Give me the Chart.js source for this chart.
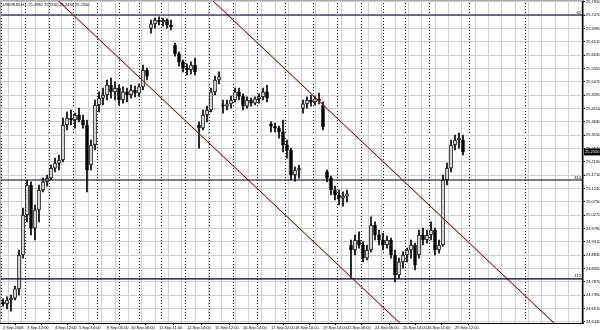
<!DOCTYPE html>
<html><head><meta charset="utf-8">
<script src="https://cdn.jsdelivr.net/npm/chart.js@4/dist/chart.umd.min.js"></script>
<style>html,body{margin:0;padding:0;background:#fff;overflow:hidden}canvas{display:block}</style>
</head><body>
<canvas id="c" width="600" height="330" style="width:600px;height:330px"></canvas>
<script>
const symbol = 'USDRUB,H1';
const openP = [
24.715,24.708,24.722,24.729,24.762,24.884,25.028,25.136,24.981,25.046,
25.118,25.147,25.161,25.197,25.215,25.226,25.352,25.377,25.370,25.388,
25.370,25.352,25.208,25.280,25.424,25.449,25.460,25.496,25.471,25.485,
25.442,25.471,25.460,25.478,25.467,25.489,25.550,25.701,25.716,25.730,
25.723,25.730,25.712,25.640,25.608,25.579,25.557,25.550,25.568,25.352,
25.341,25.388,25.406,25.471,25.514,25.424,25.420,25.428,25.442,25.471,
25.456,25.420,25.442,25.431,25.446,25.453,25.471,25.356,25.348,25.341,
25.327,25.280,25.262,25.172,25.190,25.413,25.428,25.442,25.435,25.446,
25.424,25.183,25.161,25.118,25.100,25.089,25.096,24.920,24.902,24.938,
24.920,24.873,24.902,24.992,24.956,24.938,24.920,24.938,24.884,24.812,
24.859,24.884,24.902,24.920,24.884,24.956,24.938,24.956,24.974,24.902,
24.920,25.154,25.197,25.280,25.298,25.298];
const highP = [
24.726,24.733,24.740,24.772,24.902,25.053,25.154,25.147,25.064,25.136,
25.161,25.172,25.208,25.233,25.244,25.377,25.399,25.406,25.395,25.413,
25.388,25.370,25.298,25.442,25.471,25.485,25.514,25.521,25.507,25.496,
25.489,25.485,25.496,25.492,25.500,25.568,25.557,25.730,25.737,25.741,
25.737,25.734,25.730,25.647,25.615,25.586,25.572,25.579,25.593,25.363,
25.406,25.420,25.485,25.528,25.543,25.442,25.442,25.456,25.485,25.485,
25.464,25.453,25.449,25.453,25.464,25.485,25.496,25.363,25.359,25.348,
25.370,25.298,25.269,25.201,25.208,25.442,25.453,25.460,25.456,25.467,
25.435,25.190,25.168,25.132,25.118,25.111,25.118,24.938,24.956,24.967,
24.931,24.920,25.021,25.003,24.974,24.963,24.952,24.945,24.902,24.873,
24.895,24.909,24.938,24.927,24.974,24.981,24.974,25.003,24.981,24.938,
25.172,25.215,25.298,25.316,25.323,25.316];
const lowP = [
24.700,24.690,24.682,24.722,24.740,24.873,25.003,24.956,24.938,25.003,
25.111,25.132,25.154,25.183,25.190,25.219,25.334,25.352,25.341,25.363,
25.341,25.111,25.190,25.262,25.399,25.424,25.442,25.449,25.442,25.424,
25.431,25.435,25.449,25.453,25.456,25.478,25.514,25.683,25.701,25.712,
25.708,25.701,25.694,25.600,25.564,25.543,25.532,25.536,25.532,25.269,
25.334,25.363,25.399,25.460,25.500,25.395,25.406,25.413,25.435,25.442,
25.406,25.413,25.420,25.424,25.431,25.442,25.435,25.327,25.327,25.305,
25.255,25.233,25.154,25.150,25.161,25.395,25.413,25.420,25.424,25.428,
25.334,25.147,25.100,25.082,25.064,25.060,25.075,24.801,24.884,24.909,
24.859,24.866,24.895,24.938,24.920,24.902,24.909,24.873,24.787,24.801,
24.837,24.859,24.873,24.830,24.873,24.920,24.927,24.938,24.884,24.891,
24.916,25.136,25.183,25.262,25.269,25.244];
const closeP = [
24.708,24.722,24.729,24.762,24.884,25.028,25.136,24.981,25.046,25.118,
25.147,25.161,25.197,25.215,25.226,25.352,25.377,25.370,25.388,25.370,
25.352,25.190,25.280,25.424,25.449,25.460,25.496,25.471,25.485,25.442,
25.471,25.460,25.478,25.467,25.489,25.550,25.528,25.716,25.730,25.723,
25.730,25.712,25.705,25.608,25.579,25.557,25.550,25.568,25.543,25.341,
25.388,25.406,25.471,25.514,25.525,25.420,25.428,25.442,25.471,25.456,
25.420,25.442,25.431,25.446,25.453,25.471,25.449,25.348,25.341,25.327,
25.280,25.262,25.172,25.190,25.197,25.428,25.442,25.435,25.446,25.438,
25.345,25.161,25.118,25.100,25.089,25.096,25.104,24.902,24.938,24.920,
24.873,24.902,24.992,24.956,24.938,24.920,24.938,24.884,24.812,24.859,
24.884,24.902,24.920,24.848,24.956,24.938,24.956,24.974,24.902,24.920,
25.154,25.197,25.280,25.298,25.305,25.255];

const timeLabels = ['2 Sep 2008','3 Sep 12:00','4 Sep 12:00','5 Sep 14:00','8 Sep 05:00','10 Sep 06:00',
 '11 Sep 11:00','12 Sep 14:00','15 Sep 12:00','16 Sep 14:00','17 Sep 22:00','18 Sep 10:00',
 '19 Sep 14:00','22 Sep 06:00','24 Sep 06:00','25 Sep 14:00','26 Sep 11:00','29 Sep 12:00'];
const labelBars = [0,6,13,19,26,32,39,46,53,60,67,73,80,86,93,100,106,113];
const daySeparators = [2.5,8.5,14.5,20.5,26.5,31.5,36.5,42.5,48.5,54.5,60.5,66.5,74.5,80.5,86.5,92.5,97.5,103.5,109.5,123.5];
const priceTicks = [25.795,25.747,25.699,25.651,25.603,25.555,25.507,25.459,25.411,25.363,25.315,25.267,
 25.219,25.171,25.123,25.075,25.027,24.979,24.931,24.883,24.835,24.787,24.739,24.691,24.643];
const levelPrices = [25.748, 25.154, 24.798];
const levelNames = ['62','314','112'];
const channelA = [[13.6,25.802],[99.2,24.639]];
const channelB = [[52.25,25.802],[137.75,24.639]];

const xMin = -0.75, xMax = 145, yMin = 24.6392, yMax = 25.802;
const lightGridStep = 3.3333;
const FAMILY = '"Liberation Sans", Arial, sans-serif';
const last = closeP.length - 1;

const idx = openP.map((_, i) => i);
const bodies = idx.map(i => ({x: i, y: [Math.min(openP[i], closeP[i]), Math.max(openP[i], closeP[i])]}));
const wicks = idx.map(i => ({x: i, y: [lowP[i], highP[i]]}));
const bodyColors = idx.map(i => closeP[i] >= openP[i] ? '#ffffff' : '#000000');

const lineDs = (pts, color, width, order) => ({
  type: 'line', data: pts.map(([x, y]) => ({x, y})), borderColor: color, borderWidth: width,
  pointRadius: 0, pointHoverRadius: 0, fill: false, tension: 0, order
});

const datasets = [
  {label: 'body', data: bodies, backgroundColor: bodyColors, borderColor: '#000', borderWidth: 1,
   borderSkipped: false, barThickness: 3, grouped: false, order: 0},
  {label: 'wick', data: wicks, backgroundColor: '#000', borderWidth: 0, barThickness: 1, grouped: false, order: 1},
  lineDs(channelA, 'rgba(220,150,150,0.25)', 2.5, -1),
  lineDs(channelA, '#6e0a0a', 1, -2),
  lineDs(channelB, 'rgba(220,150,150,0.25)', 2.5, -1),
  lineDs(channelB, '#6e0a0a', 1, -2),
  ...levelPrices.map(p => lineDs([[xMin - 1, p], [xMax + 1, p]], '#000022', 1.2, -3))
];

const overlay = {
  id: 'overlay',
  afterDraw(chart) {
    const {ctx, chartArea: a, scales: {y}} = chart;
    ctx.save();
    ctx.strokeStyle = '#a8a8a8'; ctx.lineWidth = 1;
    ctx.beginPath(); ctx.moveTo(a.left + 0.5, a.bottom); ctx.lineTo(a.left + 0.5, a.top + 0.5); ctx.lineTo(a.right, a.top + 0.5); ctx.stroke();
    ctx.font = '4px ' + FAMILY; ctx.fillStyle = '#000'; ctx.textBaseline = 'middle'; ctx.textAlign = 'left';
    ctx.fillText(symbol + '  ' + [openP[last], highP[last], lowP[last], closeP[last]].map(v => v.toFixed(4)).join(' '), 3, 5);
    ctx.textAlign = 'right'; ctx.textBaseline = 'bottom';
    levelPrices.forEach((p, i) => ctx.fillText(levelNames[i], a.right - 2, y.getPixelForValue(p) - 0.5));
    const py = y.getPixelForValue(closeP[last]);
    ctx.fillStyle = '#000'; ctx.fillRect(a.right + 1, py - 3.5, 17, 7);
    ctx.fillStyle = '#fff'; ctx.textAlign = 'left'; ctx.textBaseline = 'middle';
    ctx.fillText(closeP[last].toFixed(4), a.right + 2, py);
    ctx.restore();
  }
};

const hiddenX = (ticksFn, color, dash) => ({
  type: 'linear', min: xMin, max: xMax, position: 'bottom', offset: false,
  afterBuildTicks(s) { s.ticks = ticksFn().map(v => ({value: v})); },
  afterFit(s) { s.height = 0; s.paddingLeft = 0; s.paddingRight = 0; },
  ticks: {display: false},
  grid: {color, lineWidth: 1, drawTicks: false, drawOnChartArea: true},
  border: {display: false, dash}
});

new Chart(document.getElementById('c'), {
  type: 'bar',
  data: {datasets},
  plugins: [overlay],
  options: {
    responsive: false, animation: false, devicePixelRatio: 1,
    layout: {padding: 0},
    plugins: {legend: {display: false}, tooltip: {enabled: false}},
    scales: {
      xg: hiddenX(() => { const t = []; for (let v = labelBars[0] - 0.25; v < xMax; v += lightGridStep) t.push(v); return t; }, '#d0d0d0', []),
      xs: hiddenX(() => daySeparators, '#000000', [1, 2]),
      x: {
        type: 'linear', min: xMin, max: xMax, position: 'bottom', offset: false,
        afterBuildTicks(s) { s.ticks = labelBars.map(v => ({value: v})); },
        afterFit(s) { s.height = 7; s.paddingLeft = 0; s.paddingRight = 0; },
        ticks: {autoSkip: false, maxRotation: 0, minRotation: 0, align: 'start', padding: 0,
          font: {size: 4, family: FAMILY}, color: '#000', callback: (v, i) => timeLabels[i]},
        grid: {drawOnChartArea: false, drawTicks: true, tickLength: 2, tickColor: '#000'},
        border: {color: '#000', width: 1}
      },
      y: {
        type: 'linear', position: 'right', min: yMin, max: yMax,
        afterBuildTicks(s) { s.ticks = priceTicks.map(v => ({value: v})); },
        afterFit(s) { s.width = 17; s.paddingTop = 0; s.paddingBottom = 0; },
        ticks: {font: {size: 4, family: FAMILY}, color: '#000', padding: 1,
          callback: v => Math.abs(v - closeP[last]) < 0.012 ? '' : v.toFixed(4)},
        grid: {color: '#cfcfcf', lineWidth: 1, tickLength: 2, tickColor: '#000'},
        border: {color: '#000', width: 1.5}
      }
    }
  }
});
</script>
</body></html>
